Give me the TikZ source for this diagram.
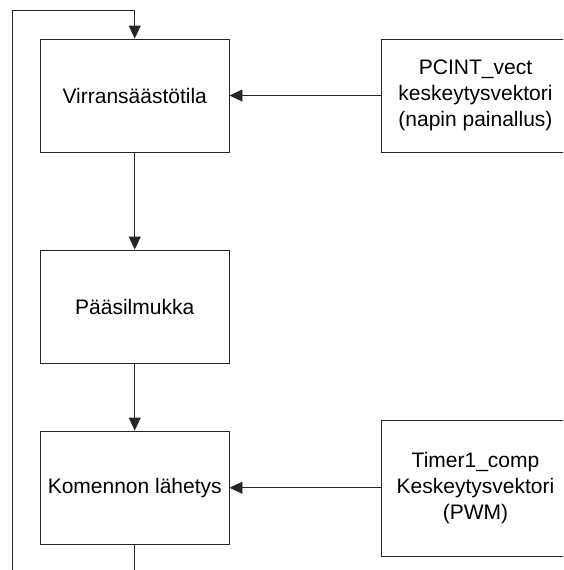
\documentclass[tikz,border=0pt]{standalone}
\usepackage{fontspec}
\setmainfont{Liberation Sans}
\usetikzlibrary{arrows.meta}
\begin{document}
\begin{tikzpicture}[x=1pt,y=-1pt,
  box/.style={draw=black!85, line width=0.9pt, minimum width=188.5pt, inner sep=0pt, align=center, font=\fontsize{21}{26}\selectfont},
  conn/.style={draw=black!85, line width=0.9pt, -{Triangle[length=13pt,width=12pt]}},
  plainline/.style={draw=black!85, line width=0.9pt}]
\useasboundingbox (0,0) rectangle (563,570);
\clip (0,0) rectangle (563,570);
\node[box, minimum height=113pt] (v) at (134.75,95.5) {Virransäästötila};
\node[box, minimum height=113pt] (p) at (134.75,306.5) {Pääsilmukka};
\node[box, minimum height=113.5pt] (k) at (134.75,487.75) {Komennon lähetys};
\node[box, minimum height=113pt] (pc) at (475.5,95.5) {PCINT\_vect\\keskeytysvektori\\(napin painallus)};
\node[box, minimum height=135.5pt] (tc) at (475.5,488.25) {Timer1\_comp\\Keskeytysvektori\\(PWM)};
\coordinate (c1) at (134.75,600);
\coordinate (c2) at (12.3,600);
\coordinate (c3) at (12.3,10.7);
\coordinate (c4) at (134.75,10.7);
\draw[conn] (v) -- (p);
\draw[conn] (p) -- (k);
\draw[conn] (pc.west) -- (v.east);
\draw[conn] (tc.west |- k.east) -- (k.east);
\draw[conn] (k.south) -- (c1) -- (c2) -- (c3) -- (c4) -- (v.north);
\end{tikzpicture}
\end{document}
